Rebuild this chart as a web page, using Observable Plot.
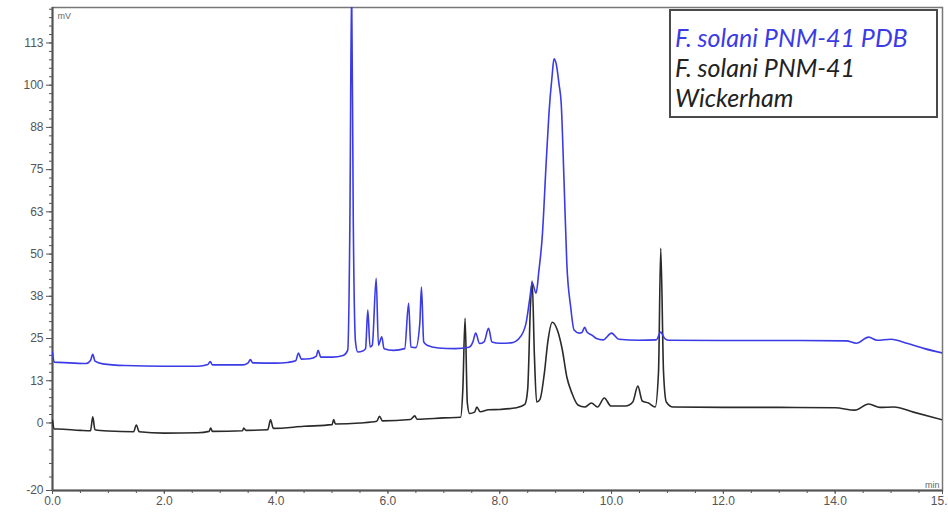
<!DOCTYPE html>
<html>
<head>
<meta charset="utf-8">
<script src="https://cdn.jsdelivr.net/npm/d3@7"></script>
<script src="https://cdn.jsdelivr.net/npm/@observablehq/plot@0.6"></script>
<style>
  html, body { margin: 0; padding: 0; background: #fff; }
  #wrap { position: relative; width: 948px; height: 512px; overflow: hidden; }
  #legend {
    position: absolute; left: 669px; top: 9px; width: 269px; height: 109px;
    border: 2px solid #4a4a4a; background: #fff;
    font-family: Lato, "Open Sans", sans-serif; font-style: italic; font-size: 25px;
    line-height: 30px; padding-top: 11px; padding-left: 4px; box-sizing: border-box;
  }
  #legend div { white-space: nowrap; }
</style>
</head>
<body>
<div id="wrap"></div>
<script>
// ---- data ----
const pdbTime = [0.00,0.03,0.30,0.60,0.68,0.72,0.76,0.90,1.30,2.00,2.60,2.78,2.82,2.86,3.40,3.50,3.54,3.58,4.00,4.20,4.35,4.40,4.45,4.60,4.72,4.75,4.80,5.00,5.20,5.28,5.32,5.35,5.38,5.42,5.46,5.55,5.60,5.64,5.68,5.72,5.79,5.83,5.89,5.93,6.10,6.30,6.37,6.41,6.50,6.57,6.60,6.64,6.70,6.90,7.20,7.45,7.52,7.57,7.64,7.72,7.80,7.86,8.00,8.20,8.35,8.47,8.54,8.58,8.65,8.70,8.76,8.83,8.88,8.94,8.97,9.01,9.06,9.10,9.15,9.20,9.27,9.33,9.42,9.47,9.52,9.56,9.65,9.72,9.85,10.00,10.13,10.49,10.80,10.88,10.95,11.02,12.00,13.00,14.20,14.38,14.60,14.75,15.00,15.30,15.60,15.92];
const pdbSignal = [21.0,18.0,17.8,17.6,18.5,20.3,18.3,17.5,17.0,16.8,16.8,17.3,18.2,17.2,17.2,17.8,18.8,17.8,17.7,17.9,18.4,20.7,18.9,19.0,19.8,21.5,19.5,19.5,20.0,21.5,60,130,60,24,21.0,21.3,22.0,33.4,22.5,23.0,42.8,23.0,25.5,22.0,21.5,22.0,35.4,22.5,22.3,29.5,40.2,24.0,23.0,22.2,22.0,22.4,24.0,26.6,23.5,24.0,28.0,24.0,23.6,23.7,25.1,29.5,37.2,41.6,38.4,45.0,55.0,76.8,91.5,103.3,107.8,106.3,100.4,94.5,71.7,47.2,34.2,27.5,26.6,26.8,28.3,26.9,26.0,25.1,24.6,26.6,24.8,24.5,24.6,26.9,25.0,24.5,24.4,24.4,24.3,23.6,25.4,24.5,24.8,23.5,22.0,20.7];

const wickTime = [0.00,0.03,0.10,0.50,0.68,0.72,0.76,1.00,1.45,1.50,1.55,2.00,2.60,2.80,2.83,2.86,3.40,3.42,3.46,3.85,3.90,3.95,4.50,5.00,5.03,5.06,5.50,5.80,5.85,5.90,6.40,6.48,6.52,7.00,7.30,7.34,7.38,7.42,7.46,7.55,7.59,7.65,7.80,8.00,8.30,8.45,8.50,8.55,8.58,8.62,8.66,8.72,8.80,8.86,8.94,9.03,9.12,9.20,9.29,9.40,9.52,9.64,9.75,9.87,9.99,10.25,10.38,10.47,10.55,10.66,10.78,10.84,10.88,10.93,10.98,11.10,12.00,13.00,14.00,14.35,14.60,14.80,15.05,15.40,15.92];
const wickSignal = [0.8,-1.8,-1.8,-2.2,-2.3,1.8,-2.0,-2.4,-2.6,-0.6,-2.6,-3.0,-2.9,-2.5,-1.5,-2.5,-2.3,-1.5,-2.2,-2.0,0.9,-1.6,-1.0,-0.5,1.0,-0.3,0.0,0.5,2.0,0.6,1.0,2.1,1.1,1.5,1.7,10,31,6,2.8,3.2,4.7,3.3,3.9,4.0,4.5,5.5,10,35,42,20,6.2,7.0,15,24,29.8,27.5,21.6,13.6,8.9,5.3,4.7,5.9,4.7,7.4,5.0,5.0,6.2,10.9,6.5,5.9,4.7,15,51.7,15,6.2,4.7,4.6,4.6,4.5,3.8,5.6,4.6,4.7,3.2,0.9];

const yTicks = [112.5,100,87.5,75,62.5,50,37.5,25,12.5,0,-20];
const yTickLabels = ["113","100","88","75","63","50","38","25","13","0","-20"];
const xTicks = [0,2,4,6,8,10,12,14,15.92];
const xTickLabels = ["0.0","2.0","4.0","6.0","8.0","10.0","12.0","14.0","15.9"];
const seriesNames = ["F. solani PNM-41 PDB", "F. solani PNM-41", "Wickerham"];

const pdb = pdbTime.map((t, i) => ({t, v: pdbSignal[i]}));
const wick = wickTime.map((t, i) => ({t, v: wickSignal[i]}));

const xMinor = d3.range(0, 15.9, 0.5);
const yMinor = d3.range(0, 123, 2.5).concat([-4, -8, -12, -16]);

const chart = Plot.plot({
  width: 948,
  height: 512,
  marginLeft: 52,
  marginRight: 6,
  marginTop: 7,
  marginBottom: 22,
  style: {fontFamily: "Liberation Sans, Arial, sans-serif", fontSize: "12px", color: "#555", background: "#fff"},
  x: {domain: [0, 15.92], label: null},
  y: {domain: [-20, 123], label: null},
  marks: [
    Plot.frame({stroke: "#777", strokeWidth: 1.5}),
    Plot.axisY({ticks: yMinor, tickSize: 3, tickFormat: () => "", stroke: "#555", label: null}),
    Plot.axisY({ticks: yTicks, tickSize: 6, tickPadding: 3, tickFormat: (d) => yTickLabels[yTicks.indexOf(d)], stroke: "#555", fill: "#555", label: null}),
    Plot.axisX({ticks: xMinor, tickSize: 3, tickFormat: () => "", stroke: "#555", label: null}),
    Plot.axisX({ticks: xTicks, tickSize: 4, tickPadding: 2, tickFormat: (d) => xTickLabels[xTicks.indexOf(d)], stroke: "#555", fill: "#555", textAnchor: "middle", label: null}),
    Plot.ruleX([0], {stroke: "#555", strokeWidth: 2}),
    Plot.ruleY([-20], {stroke: "#555", strokeWidth: 2}),
    Plot.line(wick, {x: "t", y: "v", stroke: "#2a2a2a", strokeWidth: 1.6, curve: "monotone-x", clip: true}),
    Plot.line(pdb, {x: "t", y: "v", stroke: "#3b3be6", strokeWidth: 1.6, curve: "monotone-x", clip: true}),
    Plot.text(["mV"], {frameAnchor: "top-left", dx: 5, dy: 5, fontSize: 9, fill: "#666"}),
    Plot.text(["min"], {frameAnchor: "bottom-right", dx: -3, dy: -3, fontSize: 9, fill: "#666"})
  ]
});

const wrap = document.getElementById("wrap");
wrap.appendChild(chart);
const legend = document.createElement("div");
legend.id = "legend";
const colors = ["#3b3be6", "#222", "#222"];
seriesNames.forEach((n, i) => {
  const d = document.createElement("div");
  d.textContent = n;
  d.style.color = colors[i];
  legend.appendChild(d);
});
wrap.appendChild(legend);
</script>
</body>
</html>
